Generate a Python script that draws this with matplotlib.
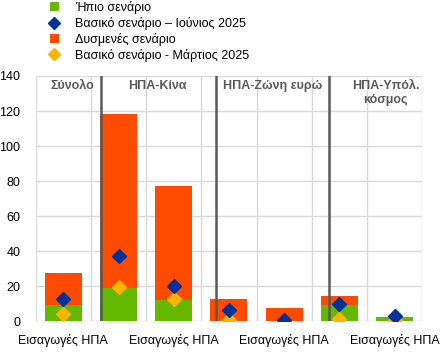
import matplotlib
matplotlib.use("Agg")
import matplotlib.pyplot as plt
from matplotlib.lines import Line2D
from matplotlib.patches import Patch
import numpy as np

plt.rcParams['font.family'] = ['Liberation Sans', 'DejaVu Sans']

categories = ["Εισαγωγές ΗΠΑ", "", "Εισαγωγές ΗΠΑ", "", "Εισαγωγές ΗΠΑ", "", "Εισαγωγές ΗΠΑ"]
mild = [9.3, 19.2, 12.3, 0.0, 0.0, 9.3, 2.4]
adverse = [27.6, 118.3, 77.2, 12.7, 7.6, 14.4, 2.4]
base_june = [12.7, 37.2, 20.3, 6.4, 0.7, 9.7, 3.0]
base_march = [4.0, 19.7, 12.7, 0.6, 0.0, 1.3, 0.5]
section_titles = ["Σύνολο", "ΗΠΑ-Κίνα", "ΗΠΑ-Ζώνη ευρώ", "ΗΠΑ-Υπόλ.\nκόσμος"]
section_title_x = [0.17, 1.7, 3.79, 5.84]
separators = [0.68, 2.77, 4.81]
yticks = [0, 20, 40, 60, 80, 100, 120, 140]

c_green = "#65B800"
c_orange = "#FF4B00"
c_blue = "#003299"
c_yellow = "#FFB400"

fig = plt.figure(figsize=(4.48, 3.6), dpi=100)
ax = fig.add_axes([0.0797, 0.1075, 0.8629, 0.6815])

x = np.arange(len(categories))
w = 0.67
ax.bar(x, adverse, width=w, color=c_orange, zorder=2)
ax.bar(x, mild, width=w, color=c_green, zorder=3)
ax.plot(x, base_june, linestyle='none', marker='D', markersize=7, color=c_blue, zorder=5)
ax.plot(x, base_march, linestyle='none', marker='D', markersize=7, color=c_yellow, zorder=4)

ax.set_xlim(-0.5, len(categories) - 0.5)
ax.set_ylim(0, 140)
ax.set_yticks(yticks)
ax.set_xticks(x)
ax.set_xticklabels(categories)
ax.grid(False)
for yv in yticks:
    ax.axhline(yv, color="#d9d9d9", lw=1, zorder=0)
for xv in np.arange(-0.5, len(categories), 1):
    ax.axvline(xv, color="#d9d9d9", lw=1, zorder=0)
for s in ax.spines.values():
    s.set_visible(False)
ax.tick_params(axis='both', which='both', length=0, labelsize=9, colors="#000000")
ax.tick_params(axis='y', pad=11)
ax.tick_params(axis='x', pad=9)

for sx in separators:
    ax.axvline(sx, color="#595959", lw=1.8, zorder=6)

for t, tx in zip(section_titles, section_title_x):
    ax.text(tx, 137.5, t, ha='center', va='top', fontsize=9, fontweight='bold',
            color="#595959", linespacing=1.15, zorder=7)

handles = [
    Patch(facecolor=c_green, edgecolor='none'),
    Line2D([], [], linestyle='none', marker='D', markersize=6.5, color=c_blue),
    Patch(facecolor=c_orange, edgecolor='none'),
    Line2D([], [], linestyle='none', marker='D', markersize=6.5, color=c_yellow),
]
labels = ["Ήπιο σενάριο", "Βασικό σενάριο – Ιούνιος 2025",
          "Δυσμενές σενάριο", "Βασικό σενάριο - Μάρτιος 2025"]
leg = fig.legend(handles, labels, loc='upper left', bbox_to_anchor=(0.108, 1.0),
                 frameon=False, fontsize=9, handlelength=0.75, handleheight=0.75,
                 handletextpad=1.3, labelspacing=0.22, borderaxespad=0, borderpad=0.1)

fig.savefig("out.png", dpi=100)
